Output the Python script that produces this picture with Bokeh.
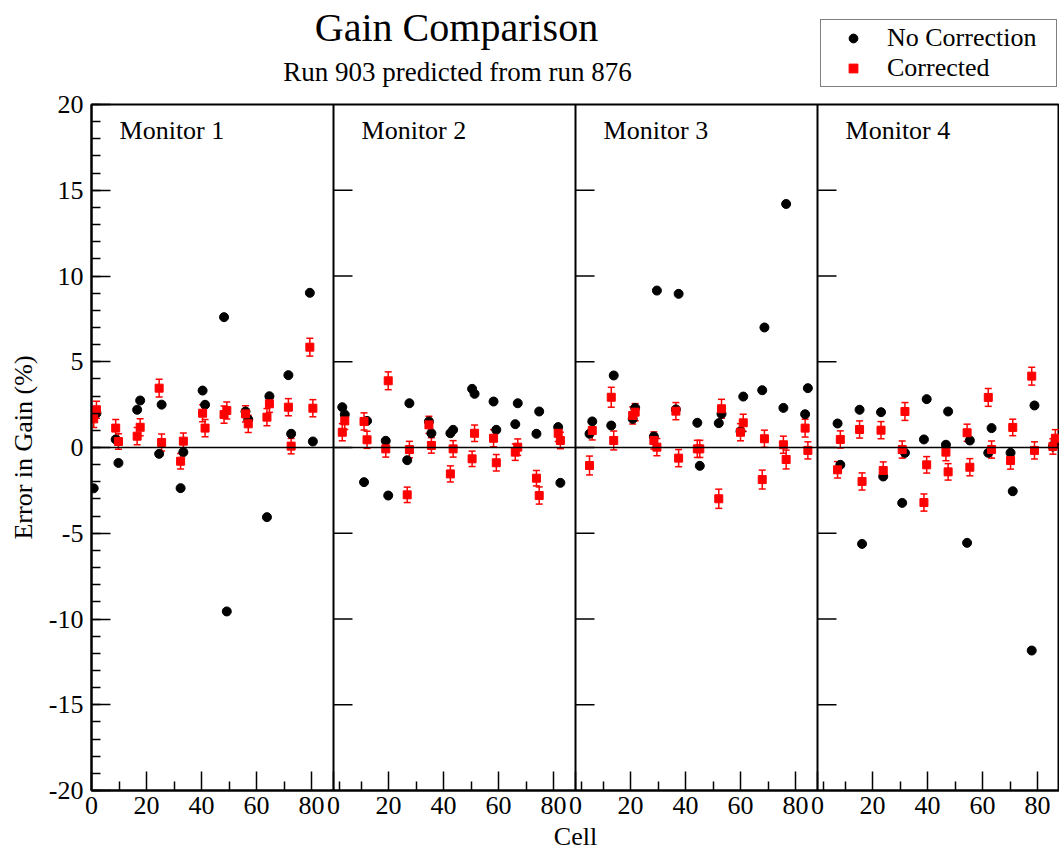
from bokeh.plotting import figure
from bokeh.models import (ColumnDataSource, Whisker, TeeHead, Span, Legend,
                          LegendItem, FixedTicker, Range1d)
from bokeh.layouts import column
from bokeh.core.properties import value
from bokeh.embed import file_html
from bokeh.resources import INLINE

# ---------------- data ----------------
MONITORS = ["Monitor 1", "Monitor 2", "Monitor 3", "Monitor 4"]
PANEL_SPAN = 88  # cells shown per panel

cells_m1 = [0.8, 1.8, 8.8, 9.8, 16.6, 17.7, 24.6, 25.5, 32.4, 33.4, 40.4, 41.3,
            48.2, 49.2, 56.0, 57.0, 63.8, 64.7, 71.6, 72.6, 79.4, 80.5]
nocorr_m1 = [-2.38, 2.0, 0.47, -0.9, 2.2, 2.74, -0.37, 2.5, -2.37, -0.27, 3.32, 2.49,
             7.6, -9.56, 2.1, 1.63, -4.06, 2.99, 4.22, 0.8, 9.02, 0.35]
corr_m1 = [1.67, 2.2, 1.13, 0.35, 0.66, 1.18, 3.46, 0.29, -0.8, 0.37, 2.0, 1.13,
           1.92, 2.16, 1.96, 1.38, 1.77, 2.55, 2.35, 0.08, 5.85, 2.29]
err_m1 = [0.5, 0.5, 0.5, 0.45, 0.5, 0.5, 0.52, 0.5, 0.45, 0.48, 0.5, 0.5,
          0.5, 0.5, 0.48, 0.5, 0.5, 0.5, 0.5, 0.45, 0.52, 0.5]

cells_m2 = [3.2, 4.1, 11.1, 12.2, 19.0, 19.9, 26.8, 27.6, 34.7, 35.6, 42.5, 43.5,
            50.4, 51.3, 58.2, 59.2, 66.1, 67.0, 73.8, 74.8, 81.7, 82.5]
nocorr_m2 = [2.35, 1.92, -2.02, 1.55, 0.39, -2.8, -0.74, 2.58, 1.52, 0.83, 0.83, 1.03,
             3.42, 3.13, 2.68, 1.03, 1.36, 2.58, 0.8, 2.1, 1.19, -2.06]
corr_m2 = [0.89, 1.55, 1.52, 0.45, -0.08, 3.89, -2.76, -0.12, 1.32, 0.12, -1.54, -0.08,
           -0.66, 0.83, 0.54, -0.89, -0.27, 0.02, -1.79, -2.8, 0.83, 0.41]
err_m2 = [0.5, 0.5, 0.5, 0.5, 0.48, 0.52, 0.45, 0.48, 0.5, 0.45, 0.47, 0.48,
          0.45, 0.48, 0.5, 0.48, 0.48, 0.48, 0.45, 0.5, 0.48, 0.48]

cells_m3 = [5.1, 6.1, 13.0, 13.9, 20.8, 21.7, 28.5, 29.6, 36.5, 37.5, 44.3, 45.2,
            52.1, 53.1, 60.0, 61.0, 67.9, 68.7, 75.6, 76.6, 83.5, 84.5]
nocorr_m3 = [0.8, 1.52, 1.28, 4.2, 1.67, 2.31, 0.64, 9.15, 2.22, 8.96, 1.44, -1.07,
             1.42, 1.96, 0.95, 2.97, 3.34, 7.0, 2.31, 14.2, 1.94, 3.46]
corr_m3 = [-1.05, 0.99, 2.93, 0.41, 1.87, 2.06, 0.41, 0.02, 2.12, -0.62, -0.08, -0.08,
           -2.99, 2.26, 0.89, 1.44, -1.87, 0.51, 0.16, -0.7, 1.13, -0.17]
err_m3 = [0.55, 0.55, 0.58, 0.55, 0.5, 0.5, 0.5, 0.5, 0.5, 0.5, 0.5, 0.5,
          0.56, 0.55, 0.5, 0.5, 0.55, 0.5, 0.5, 0.55, 0.52, 0.5]

cells_m4 = [7.3, 8.3, 15.3, 16.2, 23.1, 23.9, 30.8, 31.8, 38.7, 39.7, 46.7, 47.5,
            54.4, 55.4, 62.1, 63.3, 70.2, 71.0, 77.9, 78.9, 85.6, 86.5]
nocorr_m4 = [1.4, -1.01, 2.2, -5.62, 2.06, -1.69, -3.23, -0.31, 0.47, 2.82, 0.16, 2.1,
             -5.56, 0.41, -0.31, 1.13, -0.31, -2.55, -11.84, 2.45, 0.06, 0.3]
corr_m4 = [-1.3, 0.47, 1.05, -1.98, 1.01, -1.34, -0.12, 2.1, -3.21, -1.01, -0.27, -1.42,
           0.86, -1.15, 2.92, -0.12, -0.76, 1.17, 4.16, -0.17, 0.06, 0.54]
err_m4 = [0.48, 0.5, 0.5, 0.5, 0.5, 0.5, 0.5, 0.52, 0.5, 0.48, 0.5, 0.48,
          0.5, 0.5, 0.52, 0.5, 0.5, 0.48, 0.52, 0.5, 0.45, 0.5]

X_TICK_VALUES = [0, 20, 40, 60, 80]
X_TICK_LABELS = ["0", "20", "40", "60", "80"]
Y_TICKS = [-20, -15, -10, -5, 0, 5, 10, 15, 20]
Y_TICK_LABELS = ["-20", "-15", "-10", "-5", "0", "5", "10", "15", "20"]

TITLE = "Gain Comparison"
SUBTITLE = "Run 903 predicted from run 876"
SERIES_NAMES = ["No Correction", "Corrected"]

# ---------------- build ----------------
FONT = "Liberation Serif"
W = 1059
LEFT = 91
HEAD_H = 88

cells = [cells_m1, cells_m2, cells_m3, cells_m4]
nocorr = [nocorr_m1, nocorr_m2, nocorr_m3, nocorr_m4]
corr = [corr_m1, corr_m2, corr_m3, corr_m4]
errs = [err_m1, err_m2, err_m3, err_m4]

xs, nc, cc, lo, hi = [], [], [], [], []
for k in range(4):
    for c, a, b, e in zip(cells[k], nocorr[k], corr[k], errs[k]):
        xs.append(c + k * PANEL_SPAN)
        nc.append(a)
        cc.append(b)
        lo.append(b - e)
        hi.append(b + e)
src = ColumnDataSource(dict(x=xs, nc=nc, cc=cc, lo=lo, hi=hi))

# ---- header (titles + legend); its frame is aligned with the main frame ----
head = figure(width=W, height=HEAD_H, x_range=Range1d(LEFT, W), y_range=Range1d(HEAD_H, 0),
              output_backend="svg", toolbar_location=None,
              x_axis_location=None, y_axis_location=None,
              min_border=0, min_border_left=LEFT, min_border_right=0,
              min_border_top=0, min_border_bottom=0)
head.grid.visible = False
head.outline_line_color = None
head.background_fill_color = "white"
head.border_fill_color = "white"
head.text(x=[456], y=[27], text=[TITLE], text_font=value(FONT), text_font_size="40px",
          text_color="black", text_align="center", text_baseline="middle")
head.text(x=[457], y=[71], text=[SUBTITLE], text_font=value(FONT), text_font_size="27px",
          text_color="black", text_align="center", text_baseline="middle")
# legend proxies placed outside the visible range
d_nc = head.scatter(x=[-1000], y=[-1000], marker="circle", size=9, fill_color="black",
                    line_color="black")
d_c = head.scatter(x=[-1000], y=[-1000], marker="square", size=8, fill_color="red",
                   line_color="red")
legend = Legend(items=[LegendItem(label=SERIES_NAMES[0], renderers=[d_nc]),
                       LegendItem(label=SERIES_NAMES[1], renderers=[d_c])],
                location=(820 - LEFT, 1), orientation="vertical",
                label_text_font=FONT, label_text_font_size="26px",
                label_text_color="black", glyph_width=58, glyph_height=22,
                label_height=22, label_width=166, label_standoff=5, spacing=0,
                padding=3, margin=0,
                border_line_color="black", border_line_width=1,
                background_fill_color="white", background_fill_alpha=1.0)
head.add_layout(legend, "center")

# ---- main plot ----
XMAX = 4 * PANEL_SPAN
p = figure(width=W, height=853 - HEAD_H, x_range=(0, XMAX), y_range=(-20, 20),
           output_backend="svg", toolbar_location=None,
           min_border_left=LEFT, min_border_right=0, min_border_top=104 - HEAD_H,
           min_border_bottom=63)
p.xgrid.visible = False
p.ygrid.visible = False
p.outline_line_color = "black"
p.outline_line_width = 2
p.background_fill_color = "white"
p.border_fill_color = "white"

xt, xminor, xover = [], [], {}
for k in range(4):
    for v, lab in zip(X_TICK_VALUES, X_TICK_LABELS):
        pos = v + k * PANEL_SPAN
        xt.append(pos)
        xover[pos] = lab
        xminor.append(pos + 10)
p.xaxis.ticker = FixedTicker(ticks=xt, minor_ticks=xminor)
p.xaxis.major_label_overrides = xover
p.yaxis.ticker = FixedTicker(ticks=Y_TICKS, minor_ticks=list(range(-20, 21)))
p.yaxis.major_label_overrides = {t: l for t, l in zip(Y_TICKS, Y_TICK_LABELS)}

for ax in (p.xaxis[0], p.yaxis[0]):
    ax.axis_line_color = "black"
    ax.axis_line_width = 2
    ax.major_tick_in = 19
    ax.major_tick_out = 0
    ax.minor_tick_in = 9
    ax.minor_tick_out = 0
    ax.major_tick_line_color = "black"
    ax.major_tick_line_width = 1.5
    ax.minor_tick_line_color = "black"
    ax.minor_tick_line_width = 1.5
    ax.major_label_text_font = FONT
    ax.major_label_text_font_size = "26px"
    ax.major_label_text_color = "black"
    ax.axis_label_text_font = FONT
    ax.axis_label_text_font_size = "26px"
    ax.axis_label_text_font_style = "normal"
    ax.axis_label_text_color = "black"

p.xaxis.axis_label = "Cell"
p.xaxis.major_label_standoff = 6
p.xaxis.axis_label_standoff = 5
p.yaxis.axis_label = "Error in Gain (%)"
p.yaxis.major_label_standoff = 8
p.yaxis.axis_label_standoff = 8

p.add_layout(Span(location=0, dimension="width", line_color="black", line_width=1.5))
for k in range(1, 4):
    p.add_layout(Span(location=k * PANEL_SPAN, dimension="height",
                      line_color="black", line_width=2))

tick_len = 19 * XMAX / 968.0
tx0, tx1, ty = [], [], []
for k in range(1, 4):
    for t in Y_TICKS[1:-1]:
        tx0.append(k * PANEL_SPAN)
        tx1.append(k * PANEL_SPAN + tick_len)
        ty.append(t)
p.segment(x0=tx0, y0=ty, x1=tx1, y1=ty, line_color="black", line_width=1.5)

p.text(x=[k * PANEL_SPAN + 10.2 for k in range(4)], y=[18.5] * 4, text=MONITORS,
       text_font=value(FONT), text_font_size="26px", text_color="black",
       text_align="left", text_baseline="middle")

p.scatter("x", "nc", source=src, marker="circle", size=9,
          fill_color="black", line_color="black")
p.add_layout(Whisker(source=src, base="x", lower="lo", upper="hi",
                     line_color="red", line_width=1.5,
                     upper_head=TeeHead(size=7, line_color="red", line_width=1.5),
                     lower_head=TeeHead(size=7, line_color="red", line_width=1.5)))
p.scatter("x", "cc", source=src, marker="square", size=8,
          fill_color="red", line_color="red")

layout = column(head, p, spacing=0)
open("out.html", "w").write(file_html(layout, INLINE))
